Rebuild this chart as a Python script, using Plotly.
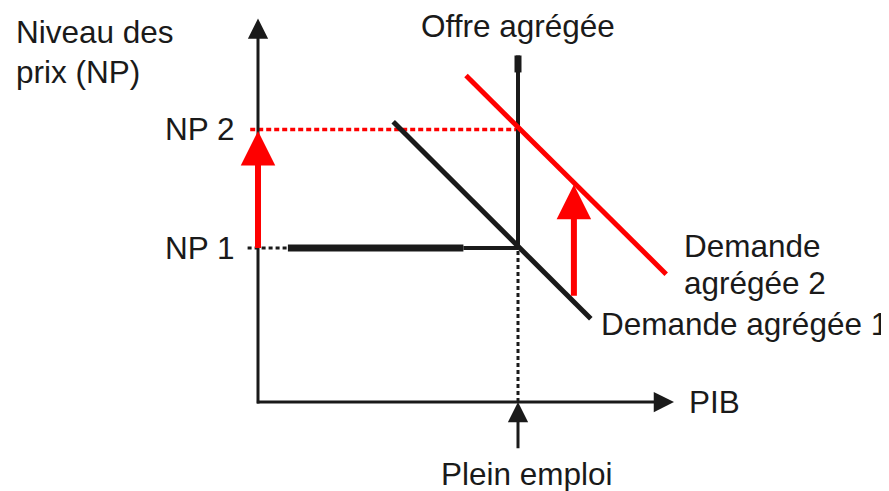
import plotly.graph_objects as go

# price level index (origin of the diagram = 0)
np_labels = ["NP 1", "NP 2"]
np_levels = [100, 177]
full_employment = 100

# aggregate demand curves, (PIB, NP) end points
ad1_pib = [52, 128]
ad1_np = [182, 54]
ad2_pib = [80, 157]
ad2_np = [212, 83]

# aggregate supply: vertical at full employment
as_np = [100, 225]
as_cap_np = [214, 225]

# horizontal segment at NP 1 (dotted start, thick part, thin part)
np1_dotted = [-4, 11.5]
np1_thick = [11.5, 79]
np1_thin = [79, 100]

# demand shift arrow
shift_pib = 121.5
shift_np = [68, 141]

# axis extents
pib_max = 160
np_max = 249
pleinemploi_tail = -31

BLACK = "#1a1a1a"
RED = "#fe0000"
FONT = "Liberation Sans"
FS = 31.5

# the page body has an 8px margin, so the origin is placed 8px up/left
px_x, px_y = 2.6, 1.54
x0_px, y0_px = 250, 394
W, H = 889, 491

fig = go.Figure()


def seg(x, y, color, width, dash=None):
    fig.add_trace(go.Scatter(
        x=x, y=y, mode="lines", hoverinfo="skip", showlegend=False,
        line=dict(color=color, width=width, dash=dash),
    ))


# dotted guides
seg([-3, full_employment], [np_levels[1]] * 2, RED, 3.5, "5px,3px")
seg(np1_dotted, [np_levels[0]] * 2, BLACK, 3, "4px,3px")
seg([full_employment] * 2, [0, np_levels[0]], BLACK, 3, "4px,3px")

# NP 1 horizontal
seg(np1_thick, [np_levels[0]] * 2, BLACK, 7)
seg(np1_thin, [np_levels[0]] * 2, BLACK, 4)

# aggregate supply
seg([full_employment] * 2, as_np, BLACK, 4)
seg([full_employment] * 2, as_cap_np, BLACK, 7)

# aggregate demand
seg(ad1_pib, ad1_np, BLACK, 5)
seg(ad2_pib, ad2_np, RED, 5)


def arrow(x, y, ax, ay, color, width, size):
    fig.add_annotation(
        x=x, y=y, ax=ax, ay=ay, xref="x", yref="y", axref="x", ayref="y",
        text="", showarrow=True, arrowhead=2, arrowsize=size,
        arrowwidth=width, arrowcolor=color, standoff=0,
    )


# axes
arrow(pib_max, 0, -1, 0, BLACK, 3, 1.35)
arrow(0, np_max, 0, -2, BLACK, 3, 1.35)
arrow(full_employment, 0, full_employment, pleinemploi_tail, BLACK, 3, 1.35)

# price rise and demand shift
arrow(0, np_levels[1] - 1, 0, np_levels[0] - 1, RED, 6, 1.15)
arrow(shift_pib, shift_np[1], shift_pib, shift_np[0], RED, 6, 1.15)


def label(text, x, y, xanchor="left"):
    fig.add_annotation(
        x=x, y=y, xref="x", yref="y", text=text, showarrow=False,
        xanchor=xanchor, yanchor="middle",
        font=dict(family=FONT, size=FS, color=BLACK),
    )


label("Niveau des", -94, 240.5)
label("prix (NP)", -94, 214.5)
label("Offre agrégée", full_employment, 244, "center")
for name, lvl in zip(np_labels, np_levels):
    label(name, -8.5, lvl, "right")
label("PIB", 165, 0)
label("Plein emploi", 103.5, -46.5, "center")
label("Demande", 163, 101)
label("agrégée 2", 163, 77.5)
label("Demande agrégée 1", 131, 50.5)

fig.update_xaxes(range=[-x0_px / px_x, (W - x0_px) / px_x], visible=False)
fig.update_yaxes(range=[(y0_px - H) / px_y, y0_px / px_y], visible=False)
fig.update_layout(
    width=W, height=H, autosize=False,
    margin=dict(l=0, r=0, t=0, b=0),
    plot_bgcolor="white", paper_bgcolor="white",
)

fig.write_html("out.html")
